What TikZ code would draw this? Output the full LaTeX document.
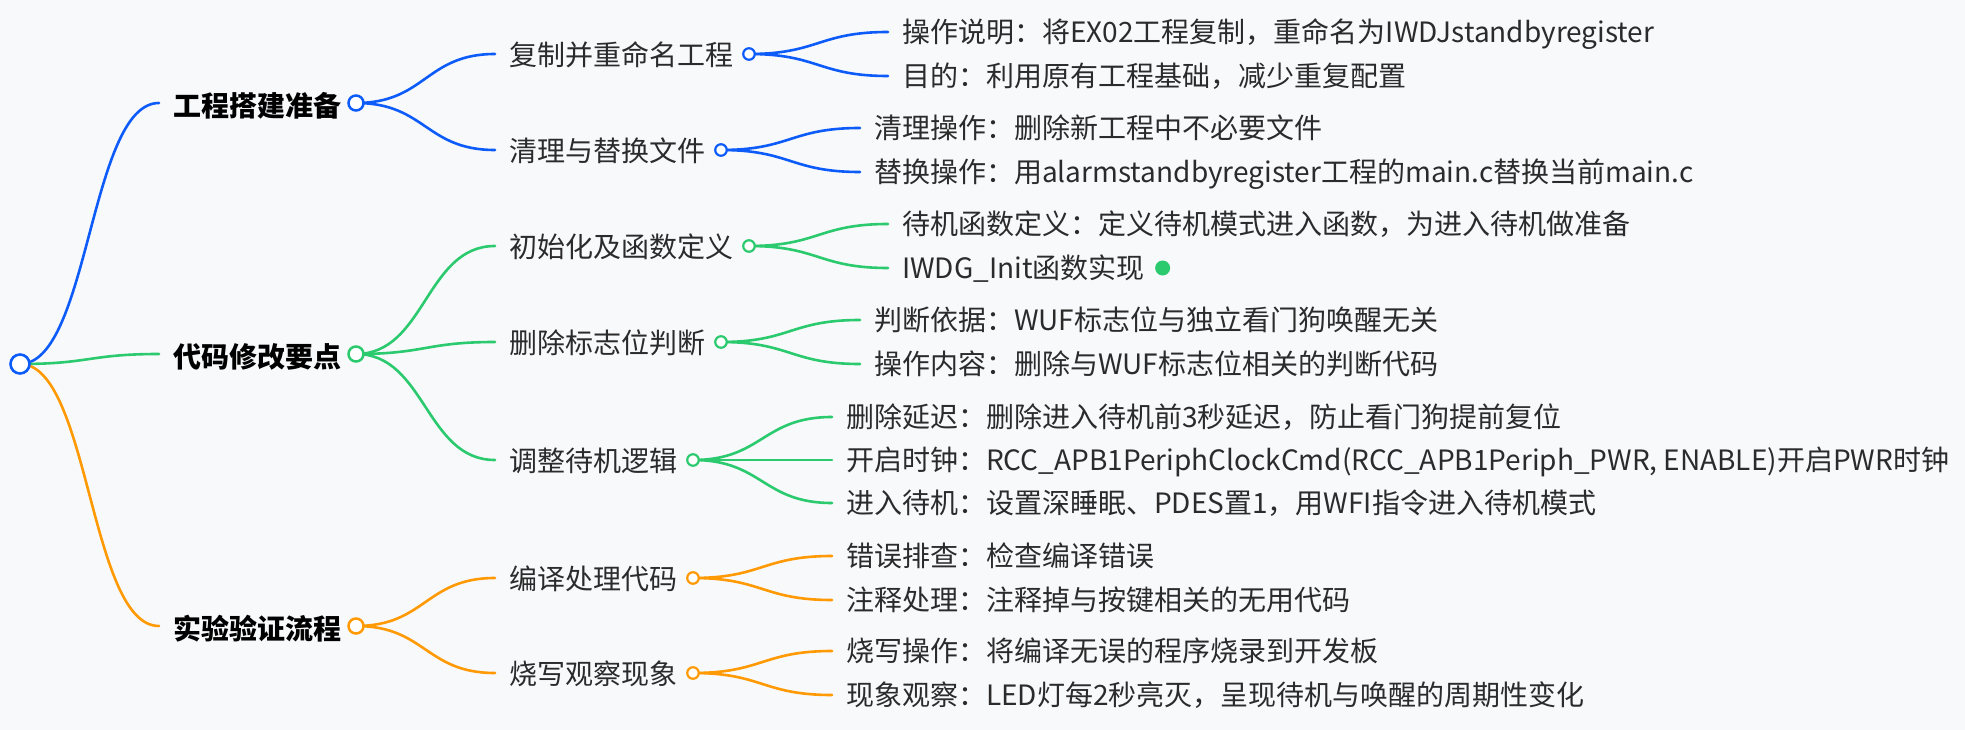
\documentclass[tikz,border=0pt]{standalone}
\usepackage{fontspec}
\newfontfamily\cjk{Noto Sans CJK SC}
\usetikzlibrary{positioning,calc}
\definecolor{cblue}{HTML}{0D5CFA}
\definecolor{cgreen}{HTML}{2BCA6E}
\definecolor{corange}{HTML}{FF9A05}
\definecolor{paper}{HTML}{F8F9FB}
\definecolor{ink}{HTML}{2B2B2B}
\pgfdeclarelayer{back}
\pgfdeclarelayer{links}
\pgfsetlayers{back,links,main}

\begin{document}
\begin{tikzpicture}[x=1pt, y=-1pt,
  hub/.style={circle, draw=#1, fill=white, line width=2.2pt, minimum size=11.5pt, inner sep=0pt},
  bighub/.style={hub=#1, line width=2.5pt, minimum size=15pt},
  leafdot/.style={circle, fill=#1, minimum size=15pt, inner sep=0pt},
  lbl/.style={inner sep=0pt, text height=24.6pt, text depth=3.4pt, text=ink,
              font=\cjk\fontsize{28pt}{34pt}\selectfont},
  head/.style={lbl, text=black, font=\cjk\bfseries\fontsize{28pt}{34pt}\selectfont},
  link/.style={draw=#1, line width=2.6pt, line cap=round,
               to path={let \p1=(\tikztostart), \p2=(\tikztotarget) in
                 .. controls ({0.5*\x1+0.5*\x2},\y1) and ({0.5*\x1+0.5*\x2},\y2) .. (\tikztotarget)}},
]
  \useasboundingbox (0,0) rectangle (1965,730);
  \begin{pgfonlayer}{back}
    \fill[paper] (0,0) rectangle (1965,730);
  \end{pgfonlayer}

  \node[hub=cblue, line width=2.6pt, minimum size=19pt] (root) at (20,364) {};

  \coordinate (prep-in) at (159,103);
  \coordinate (code-in) at (159,354);
  \coordinate (test-in) at (159,626);
  \node[head, right=14pt of prep-in, yshift=-3pt] (prep) {工程搭建准备};
  \node[head, right=14pt of code-in, yshift=-3pt] (code) {代码修改要点};
  \node[head, right=14pt of test-in, yshift=-3pt] (test) {实验验证流程};
  \node[bighub=cblue] (prep-o) at (356,103) {};
  \node[bighub=cgreen] (code-o) at (356,354) {};
  \node[bighub=corange] (test-o) at (356,626) {};

  \coordinate (copy-in) at (495,54);
  \coordinate (clean-in) at (495,150);
  \coordinate (init-in) at (495,246);
  \coordinate (flag-in) at (495,342);
  \coordinate (logic-in) at (495,460);
  \coordinate (build-in) at (495,578);
  \coordinate (burn-in) at (495,673);
  \node[lbl, right=14pt of copy-in, yshift=-1pt] (copy) {复制并重命名工程};
  \node[lbl, right=14pt of clean-in, yshift=-1pt] (clean) {清理与替换文件};
  \node[lbl, right=14pt of init-in, yshift=-1pt] (init) {初始化及函数定义};
  \node[lbl, right=14pt of flag-in, yshift=-1pt] (flag) {删除标志位判断};
  \node[lbl, right=14pt of logic-in, yshift=-1pt] (logic) {调整待机逻辑};
  \node[lbl, right=14pt of build-in, yshift=-1pt] (build) {编译处理代码};
  \node[lbl, right=14pt of burn-in, yshift=-1pt] (burn) {烧写观察现象};
  \node[hub=cblue] (copy-o) at (749,54) {};
  \node[hub=cblue] (clean-o) at (721,150) {};
  \node[hub=cgreen] (init-o) at (749,246) {};
  \node[hub=cgreen] (flag-o) at (721,342) {};
  \node[hub=cgreen] (logic-o) at (693,460) {};
  \node[hub=corange] (build-o) at (693,578) {};
  \node[hub=corange] (burn-o) at (693,673) {};

  \coordinate (copy-a) at (888,32);
  \coordinate (copy-b) at (888,76);
  \coordinate (clean-a) at (860,128);
  \coordinate (clean-b) at (860,172);
  \coordinate (init-a) at (888,224);
  \coordinate (init-b) at (888,268);
  \coordinate (flag-a) at (860,320);
  \coordinate (flag-b) at (860,364);
  \coordinate (logic-a) at (832,417);
  \coordinate (logic-b) at (832,460);
  \coordinate (logic-c) at (832,503);
  \coordinate (build-a) at (832,556);
  \coordinate (build-b) at (832,600);
  \coordinate (burn-a) at (832,651);
  \coordinate (burn-b) at (832,695);
  \node[lbl, right=14pt of copy-a] (copy-t1) {操作说明：将EX02工程复制，重命名为IWDJstandbyregister};
  \node[lbl, right=14pt of copy-b] (copy-t2) {目的：利用原有工程基础，减少重复配置};
  \node[lbl, right=14pt of clean-a] (clean-t1) {清理操作：删除新工程中不必要文件};
  \node[lbl, right=14pt of clean-b] (clean-t2) {替换操作：用alarmstandbyregister工程的main.c替换当前main.c};
  \node[lbl, right=14pt of init-a] (init-t1) {待机函数定义：定义待机模式进入函数，为进入待机做准备};
  \node[lbl, right=14pt of init-b] (init-t2) {IWDG\_Init函数实现};
  \node[leafdot=cgreen, right=10pt of init-t2] (init-dot) {};
  \node[lbl, right=14pt of flag-a] (flag-t1) {判断依据：WUF标志位与独立看门狗唤醒无关};
  \node[lbl, right=14pt of flag-b] (flag-t2) {操作内容：删除与WUF标志位相关的判断代码};
  \node[lbl, right=14pt of logic-a] (logic-t1) {删除延迟：删除进入待机前3秒延迟，防止看门狗提前复位};
  \node[lbl, right=14pt of logic-b] (logic-t2) {开启时钟：RCC\_APB1PeriphClockCmd(RCC\_APB1Periph\_PWR, ENABLE)开启PWR时钟};
  \node[lbl, right=14pt of logic-c] (logic-t3) {进入待机：设置深睡眠、PDES置1，用WFI指令进入待机模式};
  \node[lbl, right=14pt of build-a] (build-t1) {错误排查：检查编译错误};
  \node[lbl, right=14pt of build-b] (build-t2) {注释处理：注释掉与按键相关的无用代码};
  \node[lbl, right=14pt of burn-a] (burn-t1) {烧写操作：将编译无误的程序烧录到开发板};
  \node[lbl, right=14pt of burn-b] (burn-t2) {现象观察：LED灯每2秒亮灭，呈现待机与唤醒的周期性变化};

  \begin{pgfonlayer}{links}
    \draw[link=cblue] (root.center) to (prep-in);
    \draw[link=cgreen] (root.center) to (code-in);
    \draw[link=corange] (root.center) to (test-in);
    \draw[link=cblue] (prep-o.center) to (copy-in);
    \draw[link=cblue] (prep-o.center) to (clean-in);
    \draw[link=cgreen] (code-o.center) to (init-in);
    \draw[link=cgreen] (code-o.center) to (flag-in);
    \draw[link=cgreen] (code-o.center) to (logic-in);
    \draw[link=corange] (test-o.center) to (build-in);
    \draw[link=corange] (test-o.center) to (burn-in);
    \draw[link=cblue] (copy-o.center) to (copy-a);
    \draw[link=cblue] (copy-o.center) to (copy-b);
    \draw[link=cblue] (clean-o.center) to (clean-a);
    \draw[link=cblue] (clean-o.center) to (clean-b);
    \draw[link=cgreen] (init-o.center) to (init-a);
    \draw[link=cgreen] (init-o.center) to (init-b);
    \draw[link=cgreen] (flag-o.center) to (flag-a);
    \draw[link=cgreen] (flag-o.center) to (flag-b);
    \draw[link=cgreen] (logic-o.center) to (logic-a);
    \draw[link=cgreen] (logic-o.center) to (logic-b);
    \draw[link=cgreen] (logic-o.center) to (logic-c);
    \draw[link=corange] (build-o.center) to (build-a);
    \draw[link=corange] (build-o.center) to (build-b);
    \draw[link=corange] (burn-o.center) to (burn-a);
    \draw[link=corange] (burn-o.center) to (burn-b);
  \end{pgfonlayer}
\end{tikzpicture}
\end{document}
